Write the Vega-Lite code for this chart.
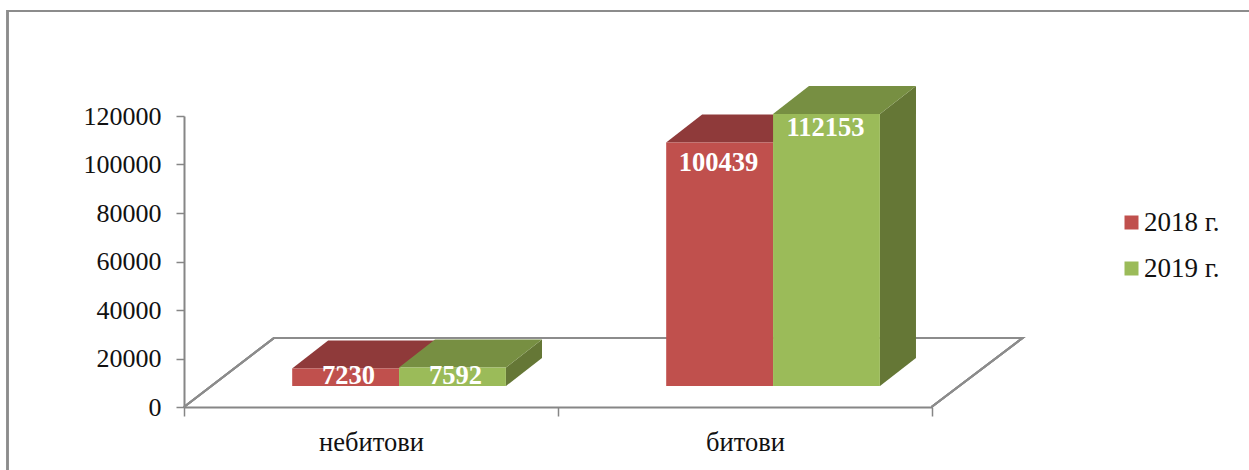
{
"$schema":"https://vega.github.io/schema/vega-lite/v6.json",
"width":748,"height":291,
"autosize":{"type":"none"},
"padding":{"left":184,"top":116,"right":317,"bottom":63},
"background":"white",
"config":{"view":{"stroke":null},"font":"Liberation Serif"},
"data":{"values":[
{"category":"небитови","series":"2018 г.","value":7230},
{"category":"небитови","series":"2019 г.","value":7592},
{"category":"битови","series":"2018 г.","value":100439},
{"category":"битови","series":"2019 г.","value":112153}
]},
"encoding":{
"x":{"field":"category","type":"nominal","sort":["небитови","битови"],"title":null,
"scale":{"paddingInner":0,"paddingOuter":0},
"axis":{"labelAngle":0,"labelFont":"Liberation Serif","labelFontSize":26.5,"labelColor":"#111111","labelPadding":13,"tickBand":"extent","tickSize":9,"tickColor":"#868686","tickWidth":1.5,"domainColor":"#868686","domainWidth":2}},
"y":{"field":"value","type":"quantitative","title":null,
"scale":{"domain":[0,120000],"nice":false},
"axis":{"values":[0,20000,40000,60000,80000,100000,120000],"format":"d","grid":false,"labelFont":"Liberation Serif","labelFontSize":26,"labelColor":"#111111","labelPadding":15,"tickSize":8,"tickColor":"#868686","tickWidth":1.5,"domainColor":"#868686","domainWidth":2}},
"xOffset":{"field":"series","type":"nominal","scale":{"paddingInner":0,"paddingOuter":0.75,"align":0.675}}
},
"layer":[
{"mark":{"type":"point","filled":false,"fill":"transparent","stroke":"#8c8c8c","strokeWidth":2,"opacity":1,"size":4,"clip":false,
"shape":"M0,0L90,-69L838.5,-69L747.5,0"},
"encoding":{"x":{"datum":"небитови"},"y":{"datum":0},"xOffset":{"value":0}}},
{"mark":{"type":"point","filled":false,"fill":"transparent","stroke":"#8c8c8c","strokeWidth":2,"opacity":1,"size":4,"clip":false,
"shape":"M-176.5,75L-176.5,-396L1070,-396"},
"encoding":{"x":{"datum":"небитови"},"y":{"datum":0},"xOffset":{"value":0}}},
{"transform":[{"filter":"datum.series==='2019 г.'"}],
"mark":{"type":"point","filled":true,"fill":"#657736","stroke":null,"opacity":1,"size":4,"yOffset":-21},
"encoding":{
"shape":{"field":"value","type":"nominal","legend":null,"scale":{"domain":[7592,112153],"range":["M53.5,0L89.5,-28L89.5,-9.6L53.5,18.4Z","M53.5,0L89.5,-28L89.5,244L53.5,272Z"]}}}},
{"transform":[{"filter":"datum.series==='2018 г.'"}],
"mark":{"type":"point","filled":true,"fill":"#8f3a3a","stroke":null,"opacity":1,"size":4,"yOffset":-21,"shape":"M-53.5,0L-17.5,-28L89.5,-28L53.5,0Z"}},
{"transform":[{"filter":"datum.series==='2019 г.'"}],
"mark":{"type":"point","filled":true,"fill":"#778f42","stroke":null,"opacity":1,"size":4,"yOffset":-21,"shape":"M-53.5,0L-17.5,-28L89.5,-28L53.5,0Z"}},
{"mark":{"type":"bar","yOffset":-21},
"encoding":{
"color":{"field":"series","type":"nominal","title":null,"scale":{"domain":["2018 г.","2019 г."],"range":["#c0504d","#9bbb59"]},
"legend":{"orient":"none","legendX":934,"legendY":93,"symbolType":"square","symbolSize":196,"labelFont":"Liberation Serif","labelFontSize":27,"labelColor":"#111111","labelOffset":-1,"rowPadding":18,"symbolStrokeWidth":0}}}},
{"transform":[{"filter":"datum.value<10000"}],
"mark":{"type":"text","font":"Liberation Serif","fontWeight":"bold","fontSize":26.5,"fill":"white","baseline":"middle","dx":3,"yOffset":-13},
"encoding":{"text":{"field":"value","type":"quantitative","format":"d"}}},
{"transform":[{"filter":"datum.value===100439"}],
"mark":{"type":"text","font":"Liberation Serif","fontWeight":"bold","fontSize":26.5,"fill":"white","baseline":"middle","dx":-1,"yOffset":0},
"encoding":{"text":{"field":"value","type":"quantitative","format":"d"}}},
{"transform":[{"filter":"datum.value===112153"}],
"mark":{"type":"text","font":"Liberation Serif","fontWeight":"bold","fontSize":26.5,"fill":"white","baseline":"middle","dx":-1,"yOffset":-7},
"encoding":{"text":{"field":"value","type":"quantitative","format":"d"}}}
]
}
